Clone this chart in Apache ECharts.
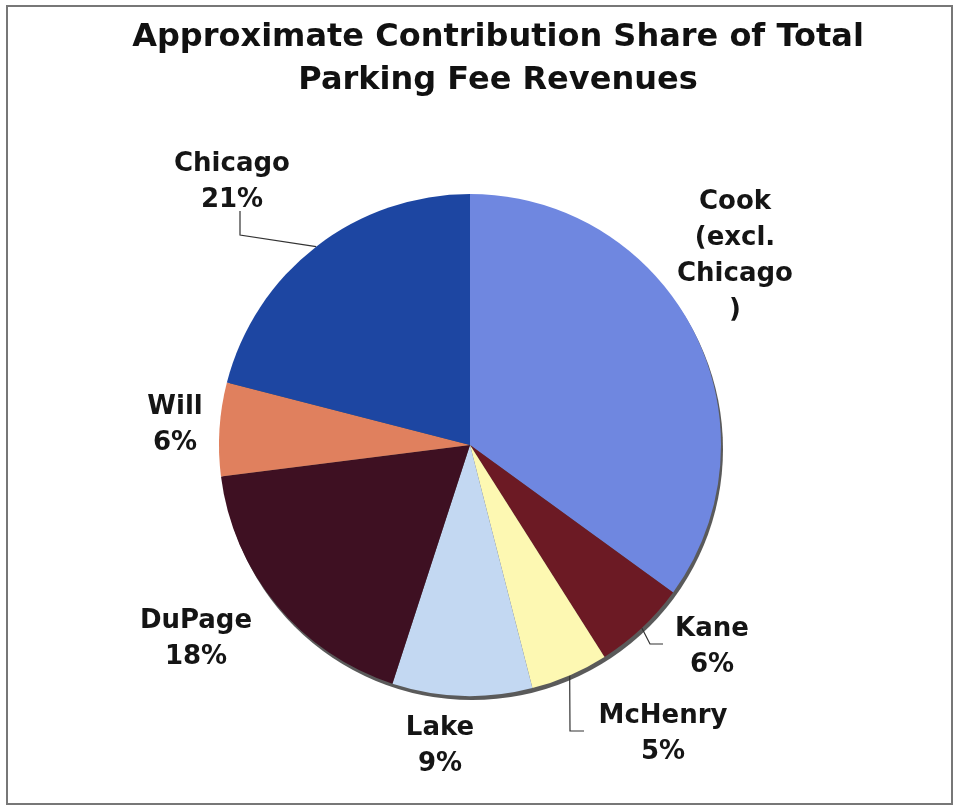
<!DOCTYPE html>
<html>
<head>
<meta charset="utf-8">
<script src="https://cdn.jsdelivr.net/npm/echarts@6/dist/echarts.min.js"></script>
<style>
  html, body { margin: 0; padding: 0; background: #fff; }
  #chart { width: 956px; height: 808px; }
</style>
</head>
<body>
<div id="chart"></div>
<script>
// Share of total parking fee revenues by area (percent)
const categories = ['Cook (excl. Chicago)', 'Kane', 'McHenry', 'Lake', 'DuPage', 'Will', 'Chicago'];
const shares = [35, 6, 5, 9, 18, 6, 21];

// Label text as printed on the chart (Cook's share is not printed)
const labelTexts = {
  'Cook (excl. Chicago)': 'Cook\n(excl.\nChicago\n)'
};
// Slices that carry a leader line to their label
const leaderSlices = ['Chicago', 'Kane', 'McHenry'];

const sliceColors = ['#6f87e0', '#6c1a24', '#fdf8b2', '#c3d8f2', '#3e1022', '#e0805e', '#1d46a2'];

// Label anchor points (centre of each text block), in pixels, by slice order
const labelAnchors = [
  [735, 256],  // Cook
  [712, 647],  // Kane
  [663, 734],  // McHenry
  [440, 746],  // Lake
  [196, 639],  // DuPage
  [175, 425],  // Will
  [232, 182]   // Chicago
];

// Leader line bend and end points (after the slice-edge start point)
const leaderBends = {
  1: [[650, 644], [663, 644]],   // Kane
  2: [[570, 731], [584, 731]],   // McHenry
  6: [[240, 235], [240, 211]]    // Chicago
};

const pieCenter = [470, 445];
const pieRadius = 251;

const chart = echarts.init(document.getElementById('chart'), null, { renderer: 'canvas' });

const sliceData = categories.map((name, i) => ({
  name: name,
  value: shares[i],
  itemStyle: { color: sliceColors[i] },
  labelLine: { show: leaderSlices.indexOf(name) >= 0 }
}));

chart.setOption({
  backgroundColor: '#ffffff',
  animation: false,
  title: {
    text: 'Approximate Contribution Share of Total\nParking Fee Revenues',
    left: 493,
    top: 11,
    textAlign: 'center',
    textStyle: {
      fontFamily: 'DejaVu Sans',
      fontWeight: 'bold',
      fontSize: 32,
      lineHeight: 43,
      color: '#111'
    }
  },
  graphic: [{
    type: 'rect',
    shape: { x: 7, y: 6, width: 945, height: 798 },
    style: { fill: 'none', stroke: '#777', lineWidth: 2 },
    silent: true
  }],
  series: [
    {
      // dark rim under the lower-right edge of the pie
      type: 'pie',
      silent: true,
      center: [pieCenter[0] + 2, pieCenter[1] + 4],
      radius: pieRadius,
      label: { show: false },
      labelLine: { show: false },
      data: [{ name: 'rim', value: 1, itemStyle: { color: '#5a5a5a' } }],
      z: 1
    },
    {
      type: 'pie',
      center: pieCenter,
      radius: pieRadius,
      startAngle: 90,
      clockwise: true,
      avoidLabelOverlap: false,
      z: 2,
      itemStyle: { borderWidth: 0 },
      label: {
        show: true,
        position: 'outside',
        fontFamily: 'DejaVu Sans',
        fontWeight: 'bold',
        fontSize: 26,
        lineHeight: 36,
        color: '#151515',
        align: 'center',
        formatter: p => labelTexts[p.name] || (p.name + '\n' + p.value + '%')
      },
      labelLine: {
        length: 20,
        length2: 14,
        lineStyle: { color: '#333', width: 1.2 }
      },
      labelLayout: p => {
        if (p.seriesIndex !== 1) return {};
        const a = labelAnchors[p.dataIndex];
        const out = { x: a[0], y: a[1], align: 'center', verticalAlign: 'middle' };
        const bend = leaderBends[p.dataIndex];
        if (bend && p.labelLinePoints && p.labelLinePoints[0]) {
          out.labelLinePoints = [p.labelLinePoints[0].slice(), bend[0], bend[1]];
        }
        return out;
      },
      data: sliceData
    }
  ]
});
</script>
</body>
</html>
